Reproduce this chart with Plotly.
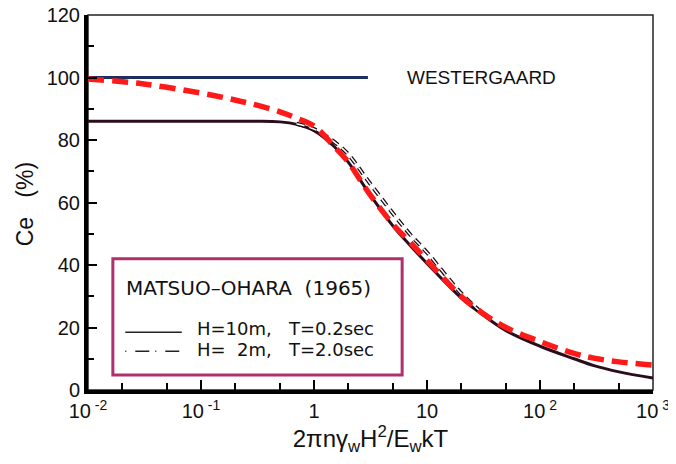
import plotly.graph_objects as go

# ---- data ----
west_x = [0.01, 3.0]
west_y = [100, 100]

red_x = [0.01, 0.03, 0.1, 0.2, 0.3, 0.5, 0.7, 1, 1.5, 2, 3, 5, 7, 10, 20, 30, 50, 100, 200, 300, 500, 1000]
red_y = [99.5, 98, 95, 92.8, 91.3, 89, 87, 84.5, 78, 73, 63.5, 53, 47.5, 41.5, 30, 25, 20, 15.5, 11.7, 10.2, 9, 8]

h10_x = [0.01, 0.1, 0.3, 0.5, 0.7, 1, 1.5, 2, 3, 5, 7, 10, 20, 30, 50, 100, 200, 300, 500, 1000]
h10_y = [86, 86, 86, 85.8, 85, 83, 78, 73, 63.5, 52.5, 46.5, 40.5, 29.5, 24.5, 19, 14, 10, 7.8, 5.8, 3.8]

h2_x = [0.7, 1, 1.5, 2, 3, 5, 7, 10, 20, 30]
h2_y = [85.2, 83.5, 79.5, 75.5, 67, 56.5, 50, 44, 31, 25]

x_tickvals = [0.01, 0.1, 1, 10, 100, 1000]
x_ticktext = ["10<sup> -2</sup>", "10<sup> -1</sup>", "1", "10", "10<sup> 2</sup>", "10<sup> 3</sup>"]
y_tickvals = [0, 20, 40, 60, 80, 100, 120]

FONT = "Liberation Sans, Arial, sans-serif"
WIDE = "DejaVu Sans, Verdana, sans-serif"
MAROON = "#b0306e"

fig = go.Figure()
fig.add_trace(go.Scatter(x=west_x, y=west_y, mode="lines",
                         line=dict(color="#1c2f5e", width=3), showlegend=False))
fig.add_trace(go.Scatter(x=h10_x, y=h10_y, mode="lines", line_shape="spline",
                         line=dict(color="#2a0c1c", width=3), showlegend=False))
fig.add_trace(go.Scatter(x=h2_x, y=h2_y, mode="lines", line_shape="spline",
                         line=dict(color="#1a0810", width=4, dash="8px,5px"), showlegend=False))
fig.add_trace(go.Scatter(x=h2_x, y=h2_y, mode="lines", line_shape="spline",
                         line=dict(color="white", width=1.5, dash="8px,5px"), showlegend=False))
fig.add_trace(go.Scatter(x=red_x, y=red_y, mode="lines", line_shape="spline",
                         line=dict(color="#ff1a1a", width=5.5, dash="16px,8px"), showlegend=False))

shapes = [
    dict(type="rect", xref="x domain", yref="y domain", x0=0, x1=1, y0=0, y1=1,
         line=dict(color="#222", width=1.5), layer="below"),
    dict(type="rect", xref="x domain", yref="y", x0=0.044, x1=0.556, y0=4.8, y1=42,
         line=dict(color=MAROON, width=3)),
    dict(type="line", xref="x domain", yref="y", x0=0.066, x1=0.166, y0=18.5, y1=18.5,
         line=dict(color="#222", width=1.5)),
    dict(type="line", xref="x domain", yref="y", x0=0.066, x1=0.166, y0=12.4, y1=12.4,
         line=dict(color="#222", width=1.5, dash="1px,9px,14px,6px")),
]

annotations = [
    dict(text="WESTERGAARD", xref="x domain", yref="y", x=0.696, y=100, xanchor="center",
         showarrow=False, font=dict(family=FONT, size=19, color="#111")),
    dict(text="MATSUO\u2013OHARA  (1965)", xref="x domain", yref="y", x=0.064, y=32.5,
         xanchor="left", showarrow=False, font=dict(family=WIDE, size=20, color="#111")),
    dict(text="H=10m,   T=0.2sec", xref="x domain", yref="y", x=0.189, y=19.7,
         xanchor="left", showarrow=False, font=dict(family=WIDE, size=18, color="#111")),
    dict(text="H=  2m,   T=2.0sec", xref="x domain", yref="y", x=0.189, y=13.0,
         xanchor="left", showarrow=False, font=dict(family=WIDE, size=18, color="#111")),
    dict(text="Ce   (%)", xref="paper", yref="paper", x=-0.111, y=0.496, textangle=-90,
         xanchor="center", yanchor="middle",
         showarrow=False, font=dict(family=FONT, size=23, color="#111")),
]

fig.update_layout(
    width=668, height=456,
    margin=dict(l=80, r=23, t=7, b=74),
    paper_bgcolor="white", plot_bgcolor="white",
    shapes=shapes, annotations=annotations,
    font=dict(family=FONT, color="#111"),
)
fig.update_xaxes(type="log", range=[-2, 3], tickvals=x_tickvals, ticktext=x_ticktext,
                 automargin=False, ticklabeloverflow="allow",
                 showgrid=False, zeroline=False, showline=True, linecolor="black", linewidth=4,
                 ticks="inside", ticklen=10, tickwidth=1.5, tickcolor="black",
                 tickfont=dict(size=20, family=FONT),
                 minor=dict(ticks="inside", ticklen=7, tickwidth=1.5, tickcolor="black", showgrid=False),
                 title=dict(text="2\u03c0n\u03b3<sub>w</sub>H<sup>2</sup>/E<sub>w</sub>kT",
                            font=dict(size=24, family=FONT), standoff=6))
fig.update_yaxes(range=[0, 120], tickvals=y_tickvals, automargin=False, ticklabeloverflow="allow",
                 showgrid=False, zeroline=False, showline=True, linecolor="black", linewidth=4,
                 ticks="inside", ticklen=9, tickwidth=1.5, tickcolor="black",
                 tickfont=dict(size=20, family=FONT),
                 minor=dict(ticks="inside", ticklen=6, tickwidth=1.5, tickcolor="black",
                            dtick=10, showgrid=False))

fig.write_html("out.html")
